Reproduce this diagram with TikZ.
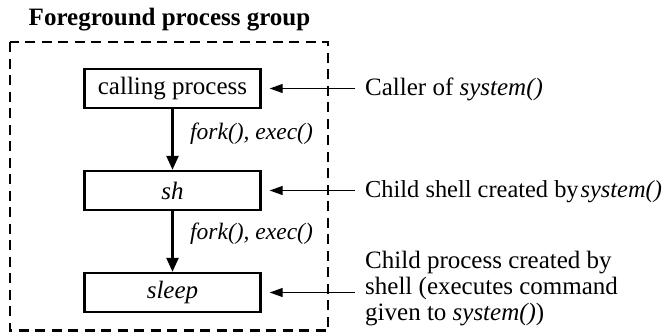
\documentclass[tikz,border=0pt]{standalone}
\usepackage{fontspec}
\setmainfont{Liberation Serif}
\usetikzlibrary{arrows.meta,calc}
\begin{document}
\begin{tikzpicture}[x=1pt,y=-1pt,
  procbox/.style={draw,line width=2.4pt,minimum width=176pt,minimum height=39pt,inner sep=0pt,font=\fontsize{25}{27}\selectfont},
  forklabel/.style={anchor=west,inner sep=0pt,font=\fontsize{23.5}{27}\selectfont\itshape},
  desc/.style={anchor=west,inner sep=0pt,align=left,font=\fontsize{25}{26}\selectfont},
  downarrow/.style={line width=2.4pt,-{Triangle[length=14pt,width=12pt]}},
  leftarrow/.style={line width=1.2pt,-{Triangle[length=13pt,width=9pt]}}
]
\useasboundingbox (0,0) rectangle (669,332);
\node[font=\fontsize{25}{27}\selectfont\bfseries,anchor=base,inner sep=0pt] (title) at (169.5,25) {Foreground process group};
\draw[line width=2.4pt,dash pattern=on 10pt off 6.5pt] (10,42) rectangle (328,330.5);
\node[procbox] (call) at (172.5,88.5) {calling process};
\node[procbox] (sh) at (172.5,190.5) {\itshape sh};
\node[procbox] (sleep) at (172.5,292.5) {\itshape sleep};
\draw[downarrow] (call) -- (sh);
\draw[downarrow] (sh) -- (sleep);
\node[forklabel] (f1) at (190,134) {fork(), exec()};
\node[forklabel] (f2) at (190,234) {fork(), exec()};
\node[desc] (d1) at (365,89) {Caller of \textit{system()}};
\node[desc,font=\fontsize{24.4}{26}\selectfont] (d2) at (365,192) {Child shell created by\hspace{2pt}\textit{system()}};
\node[desc] (d3) at (365,289) {Child process created by\\shell (executes command\\given to \textit{system()})};
\coordinate (s1) at (355,88.5);
\coordinate (s2) at (355,190.5);
\coordinate (s3) at (355,292.5);
\draw[leftarrow,shorten >=8pt] (s1) -- (call.east);
\draw[leftarrow,shorten >=8pt] (s2) -- (sh.east);
\draw[leftarrow,shorten >=8pt] (s3) -- (sleep.east);
\end{tikzpicture}
\end{document}
